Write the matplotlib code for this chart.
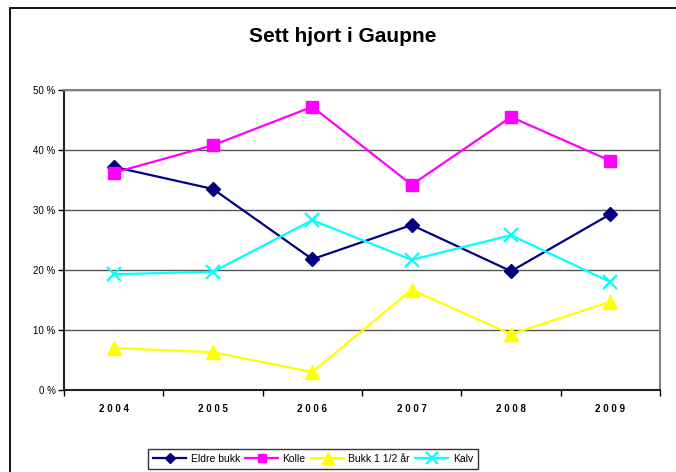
import matplotlib
matplotlib.use("Agg")
import matplotlib.pyplot as plt
from matplotlib.patches import Rectangle
from matplotlib.ticker import FixedLocator, NullFormatter, FuncFormatter

plt.rcParams['font.family'] = ['Liberation Sans', 'DejaVu Sans']

years = ["2004", "2005", "2006", "2007", "2008", "2009"]
eldre_bukk = [37.2, 33.5, 21.8, 27.5, 19.8, 29.3]
kolle = [36.2, 40.8, 47.2, 34.2, 45.5, 38.2]
bukk_1_5 = [7.0, 6.3, 3.0, 16.7, 9.3, 14.7]
kalv = [19.3, 19.7, 28.3, 21.7, 25.8, 18.0]
series_names = ["Eldre bukk", "Kolle", "Bukk 1 1/2 år", "Kalv"]

fig = plt.figure(figsize=(6.76, 4.72), dpi=100)
# outer chart-area frame (extends beyond right/bottom edges)
fig.patches.append(Rectangle((10/676, -0.1), 1.2, (472-8)/472 + 0.1,
                             transform=fig.transFigure, fill=False,
                             edgecolor='black', linewidth=1.3))

ax = fig.add_axes([64/676, (472-390)/472, (660-64)/676, (390-90)/472])
x = list(range(len(years)))

ax.plot(x, eldre_bukk, color='#000080', marker='D', markersize=7, linewidth=1.6, label=series_names[0])
ax.plot(x, kolle, color='#FF00FF', marker='s', markersize=8, linewidth=1.6, label=series_names[1])
ax.plot(x, bukk_1_5, color='#FFFF00', marker='^', markersize=10, linewidth=1.6, label=series_names[2])
ax.plot(x, kalv, color='#00FFFF', marker='x', markersize=10, markeredgewidth=1.6, linewidth=1.6, label=series_names[3])

ax.set_xlim(-0.5, len(years) - 0.5)
ax.set_ylim(0, 50)
ax.set_yticks([0, 10, 20, 30, 40, 50])
ax.yaxis.set_major_formatter(FuncFormatter(lambda v, p: f"{int(v)} %"))
ax.grid(axis='y', color='#555555', linewidth=1)
ax.set_axisbelow(True)

ax.xaxis.set_major_locator(FixedLocator([i - 0.5 for i in range(len(years) + 1)]))
ax.xaxis.set_major_formatter(NullFormatter())
ax.xaxis.set_minor_locator(FixedLocator(x))
ax.set_xticklabels([" ".join(y) for y in years], minor=True)
ax.tick_params(axis='x', which='minor', length=0, pad=10, labelsize=7)
for lab in ax.get_xticklabels(minor=True):
    lab.set_fontweight('bold')
ax.tick_params(axis='x', which='major', length=4, direction='out', width=1)
ax.tick_params(axis='y', length=4, direction='out', labelsize=7, width=1, pad=2)

ax.spines['left'].set_color('#222222')
ax.spines['bottom'].set_color('#222222')
ax.spines['left'].set_linewidth(1.5)
ax.spines['bottom'].set_linewidth(1.5)
ax.spines['top'].set_color('#808080')
ax.spines['right'].set_color('#808080')
ax.spines['top'].set_linewidth(1.5)
ax.spines['right'].set_linewidth(1.5)

fig.text(343/676, 1 - 36/472, "Sett hjort i Gaupne", ha='center', va='center',
         fontsize=15, fontweight='bold')

leg = fig.legend(loc='center', bbox_to_anchor=(313/676, 1 - 459/472), ncol=4,
                 fontsize=7.5, frameon=True, fancybox=False, edgecolor='black',
                 handlelength=3.2, columnspacing=0.5, handletextpad=0.4,
                 borderpad=0.45, borderaxespad=0, markerscale=0.8)
leg.get_frame().set_linewidth(1)

fig.savefig("out.png", dpi=100)
